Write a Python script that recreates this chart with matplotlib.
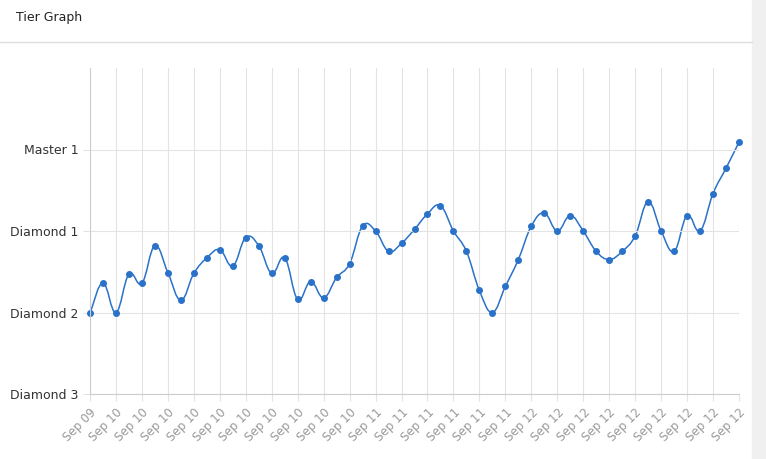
import numpy as np
import matplotlib.pyplot as plt
from matplotlib.path import Path
from matplotlib.patches import PathPatch

tier_names = ["Diamond 3", "Diamond 2", "Diamond 1", "Master 1"]
dates = ["Sep 09"] + ["Sep 10"] * 10 + ["Sep 11"] * 6 + ["Sep 12"] * 9
tier = [1.0, 1.36, 1.0, 1.47, 1.36, 1.82, 1.49, 1.15, 1.48, 1.67,
        1.77, 1.57, 1.92, 1.82, 1.48, 1.67, 1.16, 1.38, 1.18, 1.43,
        1.60, 2.06, 2.0, 1.75, 1.85, 2.02, 2.21, 2.31, 2.0, 1.75,
        1.27, 1.0, 1.32, 1.65, 2.06, 2.22, 2.0, 2.19, 2.0, 1.75,
        1.65, 1.75, 1.94, 2.36, 2.0, 1.75, 2.19, 2.0, 2.46, 2.77, 3.09]

blue = "#2a72c8"
x = np.arange(len(tier))
y = np.array(tier)

fig = plt.figure(figsize=(7.66, 4.59), dpi=100)
fig.text(16 / 766, 1 - 18 / 459, "Tier Graph", fontsize=9, va="center", color="#222222")
fig.add_artist(plt.Line2D([0, 752 / 766], [1 - 42 / 459] * 2, color="#dddddd", lw=1))
fig.add_artist(plt.Rectangle((752 / 766, 0), 14 / 766, 1, color="#f0f0f0"))

ax = fig.add_axes([90 / 766, 1 - 394 / 459, 649 / 766, 326 / 459])
ax.set_xlim(0, len(tier) - 1)
ax.set_ylim(0, 4)

# smooth curve like chart.js (tension 0.4)
t = 0.4
verts = [(x[0], y[0])]
codes = [Path.MOVETO]
cps = []
for i in range(len(x)):
    p0 = (x[max(i - 1, 0)], y[max(i - 1, 0)])
    p2 = (x[min(i + 1, len(x) - 1)], y[min(i + 1, len(x) - 1)])
    d01 = np.hypot((x[i] - p0[0]) / 13, (y[i] - p0[1]) / 81.5)
    d12 = np.hypot((p2[0] - x[i]) / 13, (p2[1] - y[i]) / 81.5)
    s = d01 + d12
    fa = t * d01 / s if s else 0
    fb = t * d12 / s if s else 0
    cps.append(((x[i] - fa * (p2[0] - p0[0]), y[i] - fa * (p2[1] - p0[1])),
                (x[i] + fb * (p2[0] - p0[0]), y[i] + fb * (p2[1] - p0[1]))))
for i in range(1, len(x)):
    verts += [cps[i - 1][1], cps[i][0], (x[i], y[i])]
    codes += [Path.CURVE4] * 3
ax.add_patch(PathPatch(Path(verts, codes), fc="none", ec=blue, lw=1.1, clip_on=False))
ax.plot(x, y, "o", color=blue, ms=4, clip_on=False)

ax.set_yticks(range(4))
ax.set_yticklabels(tier_names, fontsize=9, color="#333333")
ax.set_xticks(x[::2])
ax.set_xticklabels(dates, rotation=45, ha="right", rotation_mode="anchor",
                   fontsize=8.5, color="#999999")
ax.grid(True, color="#e3e3e3", lw=0.8)
for sp in ["top", "right"]:
    ax.spines[sp].set_visible(False)
for sp in ["left", "bottom"]:
    ax.spines[sp].set_color("#cccccc")
ax.tick_params(length=5, color="#e3e3e3")

fig.savefig("out.png", dpi=100)
